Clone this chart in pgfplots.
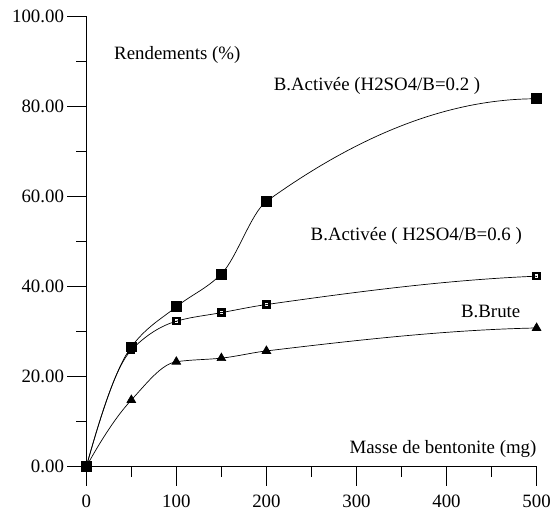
\documentclass[border=0pt]{standalone}
\usepackage{fontspec}
\setmainfont{Liberation Serif}
\usepackage{pgfplots}
\pgfplotsset{compat=1.18}
\newcommand{\lbl}{\fontsize{19bp}{22bp}\selectfont}

% open square with a small dot in the middle
\pgfdeclareplotmark{sqdot}{%
  \pgfpathrectangle{\pgfpoint{-\pgfplotmarksize}{-\pgfplotmarksize}}{\pgfpoint{2\pgfplotmarksize}{2\pgfplotmarksize}}%
  \pgfusepathqstroke
  \pgfpathrectangle{\pgfpoint{-0.9bp}{-0.5bp}}{\pgfpoint{1.8bp}{1bp}}%
  \pgfusepathqfill
}

% monotone cubic (pchip) plot handler, y as a function of x
\makeatletter
\newcount\pch@n
\newcount\pch@i
\def\pchX#1{\csname pch@x\number#1\endcsname}
\def\pchY#1{\csname pch@y\number#1\endcsname}
\def\pchH#1{\csname pch@h\number#1\endcsname}
\def\pchD#1{\csname pch@d\number#1\endcsname}
\def\pchM#1{\csname pch@m\number#1\endcsname}
\def\pgfplothandlerpchip{%
  \def\pgf@plotstreamstart{%
    \global\pch@n=0\relax
    \global\let\pgf@plotstreampoint=\pch@point
    \global\let\pgf@plotstreamspecial=\pgfutil@gobble
    \global\let\pgf@plotstreamend=\pch@end
  }%
}
\def\pch@point#1{%
  \pgf@process{#1}%
  \global\advance\pch@n by 1\relax
  \expandafter\xdef\csname pch@x\the\pch@n\endcsname{\pgf@sys@tonumber\pgf@x}%
  \expandafter\xdef\csname pch@y\the\pch@n\endcsname{\pgf@sys@tonumber\pgf@y}%
}
\def\pch@loopd{%
  \ifnum\pch@i<\pch@n
    \edef\pch@xa{\pchX{\pch@i}}\edef\pch@ya{\pchY{\pch@i}}%
    \edef\pch@xb{\pchX{\numexpr\pch@i+1\relax}}\edef\pch@yb{\pchY{\numexpr\pch@i+1\relax}}%
    \pgfmathsetmacro\pch@h{\pch@xb-\pch@xa}%
    \pgfmathsetmacro\pch@t{(\pch@yb-\pch@ya)/\pch@h}%
    \expandafter\xdef\csname pch@h\number\pch@i\endcsname{\pch@h}%
    \expandafter\xdef\csname pch@d\number\pch@i\endcsname{\pch@t}%
    \advance\pch@i by 1\relax
    \expandafter\pch@loopd
  \fi}
\def\pch@loopm{%
  \ifnum\pch@i<\pch@n
    \edef\pch@da{\pchD{\numexpr\pch@i-1\relax}}\edef\pch@db{\pchD{\pch@i}}%
    \edef\pch@ha{\pchH{\numexpr\pch@i-1\relax}}\edef\pch@hb{\pchH{\pch@i}}%
    \pgfmathsetmacro\pch@t{\pch@da*\pch@db}%
    \ifdim\pch@t pt>0pt
      \pgfmathsetmacro\pch@t{(3*\pch@ha+3*\pch@hb)/((2*\pch@hb+\pch@ha)/\pch@da+(\pch@hb+2*\pch@ha)/\pch@db)}%
    \else
      \def\pch@t{0}%
    \fi
    \expandafter\xdef\csname pch@m\number\pch@i\endcsname{\pch@t}%
    \advance\pch@i by 1\relax
    \expandafter\pch@loopm
  \fi}
\def\pch@endslope{%
  \pgfmathsetmacro\pch@t{((2*\pch@ha+\pch@hb)*\pch@da-\pch@ha*\pch@db)/(\pch@ha+\pch@hb)}%
  \pgfmathsetmacro\pch@s{\pch@t*\pch@da}%
  \ifdim\pch@s pt>0pt
    \pgfmathsetmacro\pch@s{\pch@da*\pch@db}%
    \ifdim\pch@s pt<0pt
      \pgfmathsetmacro\pch@s{abs(\pch@t)-3*abs(\pch@da)}%
      \ifdim\pch@s pt>0pt \pgfmathsetmacro\pch@t{3*\pch@da}\fi
    \fi
  \else
    \def\pch@t{0}%
  \fi}
\def\pch@loopc{%
  \ifnum\pch@i<\pch@n
    \edef\pch@xa{\pchX{\pch@i}}\edef\pch@ya{\pchY{\pch@i}}\edef\pch@ma{\pchM{\pch@i}}%
    \edef\pch@xb{\pchX{\numexpr\pch@i+1\relax}}\edef\pch@yb{\pchY{\numexpr\pch@i+1\relax}}%
    \edef\pch@mb{\pchM{\numexpr\pch@i+1\relax}}\edef\pch@h{\pchH{\pch@i}}%
    \pgfmathsetmacro\pch@cax{\pch@xa+\pch@h/3}%
    \pgfmathsetmacro\pch@cay{\pch@ya+\pch@ma*\pch@h/3}%
    \pgfmathsetmacro\pch@cbx{\pch@xb-\pch@h/3}%
    \pgfmathsetmacro\pch@cby{\pch@yb-\pch@mb*\pch@h/3}%
    \pgfpathcurveto{\pgfpoint{\pch@cax pt}{\pch@cay pt}}{\pgfpoint{\pch@cbx pt}{\pch@cby pt}}{\pgfpoint{\pch@xb pt}{\pch@yb pt}}%
    \advance\pch@i by 1\relax
    \expandafter\pch@loopc
  \fi}
\def\pch@end{%
  \pch@i=1\relax \pch@loopd
  \pch@i=2\relax \pch@loopm
  \edef\pch@da{\pchD{1}}\edef\pch@db{\pchD{2}}\edef\pch@ha{\pchH{1}}\edef\pch@hb{\pchH{2}}%
  \pch@endslope
  \expandafter\xdef\csname pch@m1\endcsname{\pch@t}%
  \edef\pch@da{\pchD{\numexpr\pch@n-1\relax}}\edef\pch@db{\pchD{\numexpr\pch@n-2\relax}}%
  \edef\pch@ha{\pchH{\numexpr\pch@n-1\relax}}\edef\pch@hb{\pchH{\numexpr\pch@n-2\relax}}%
  \pch@endslope
  \expandafter\xdef\csname pch@m\number\pch@n\endcsname{\pch@t}%
  \pgfpathmoveto{\pgfpoint{\pchX{1}pt}{\pchY{1}pt}}%
  \pch@i=1\relax \pch@loopc
}
\tikzset{pchip/.code={\let\tikz@plot@handler=\pgfplothandlerpchip}}
\makeatother

\begin{document}
\begin{tikzpicture}
\begin{axis}[
    scale only axis,
    width=454bp, height=454bp,
    axis lines=left,
    axis line style={-, line width=1.2pt},
    xmin=0, xmax=500, ymin=0, ymax=100,
    xtick={0,100,...,500},
    ytick={0,20,...,100},
    minor x tick num=1,
    minor y tick num=1,
    tick align=outside,
    major tick length=19bp,
    minor tick length=10bp,
    tick style={black, line width=1pt},
    ticklabel style={font=\lbl},
    /pgf/number format/assume math mode=true,
    yticklabel style={/pgf/number format/.cd, fixed, fixed zerofill, precision=2},
    xticklabel style={yshift=-6bp},
    clip=false,
    every axis plot/.append style={black, line width=0.7pt},
]
\addplot[pchip, mark=square*, mark size=5bp] coordinates {
    (0,0) (50,26.6) (100,35.5) (150,42.8) (200,58.9) (500,81.7)
};
\addplot[pchip, mark=sqdot, mark size=3bp, mark options={line width=2.4bp}] coordinates {
    (0,0) (50,25.9) (100,32.3) (150,34.2) (200,36.0) (500,42.3)
};
\addplot[pchip, mark=triangle*, mark size=5bp] coordinates {
    (0,0) (50,14.8) (100,23.3) (150,24.1) (200,25.7) (500,30.8)
};
\addplot[only marks, mark=square*, mark size=5bp] coordinates {(0,0)};
\node[anchor=west, inner sep=0pt, font=\lbl] at (axis cs:30.8,91.5) {Rendements (\%)};
\node[anchor=west, inner sep=0pt, font=\lbl] at (axis cs:208,84.5) {B.Activée (H2SO4/B=0.2 )};
\node[anchor=west, inner sep=0pt, font=\lbl] at (axis cs:249,51.2) {B.Activée ( H2SO4/B=0.6 )};
\node[anchor=west, inner sep=0pt, font=\lbl] at (axis cs:416,34.5) {B.Brute};
\node[anchor=east, inner sep=0pt, font=\lbl] at (axis cs:500,3.9) {Masse de bentonite (mg)};
\end{axis}
\path ([shift={(-87bp,-46.5bp)}]current axis.origin) rectangle ([shift={(467bp,470.5bp)}]current axis.origin);
\end{tikzpicture}
\end{document}
